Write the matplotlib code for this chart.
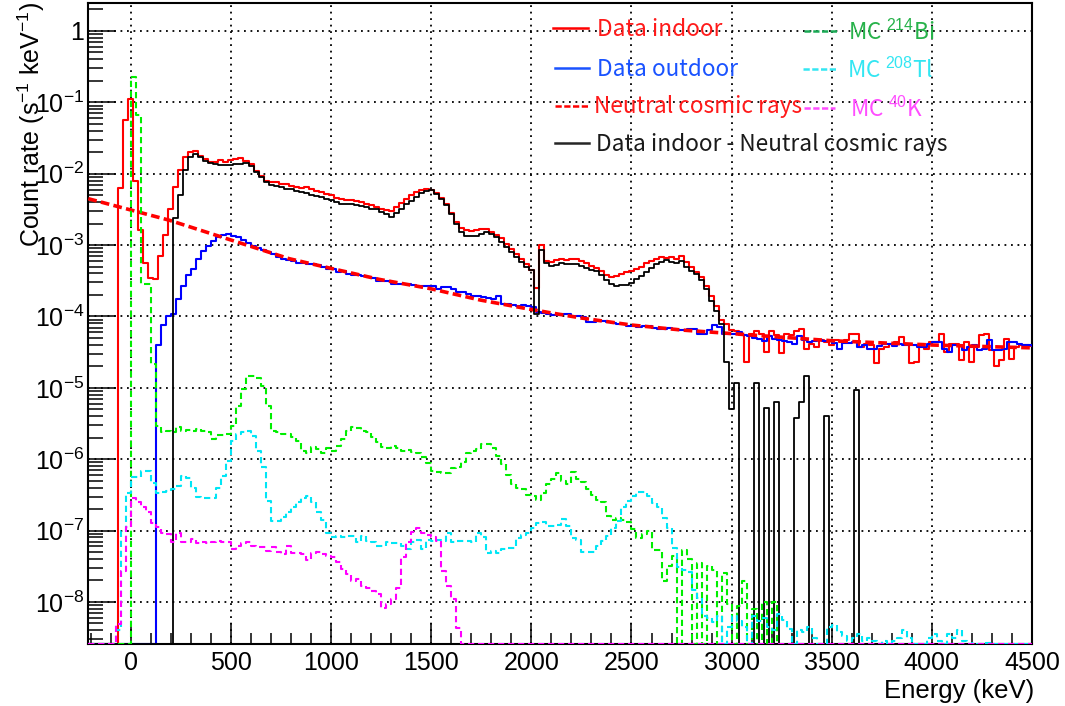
import numpy as np
import matplotlib
matplotlib.use("Agg")
import matplotlib.pyplot as plt
from matplotlib.lines import Line2D
from matplotlib.ticker import FixedLocator, MultipleLocator, LogLocator, FuncFormatter, NullFormatter

# ---------------- data (log10 of count rate, s^-1 keV^-1), 25 keV bins ----------------
BIN = 25.0
XMIN, XMAX = -212.5, 4500.0
YMIN, YMAX = 2.55e-9, 2.49

x_ticks = [0, 500, 1000, 1500, 2000, 2500, 3000, 3500, 4000, 4500]

indoor_start = -62.5
indoor_log10 = [
    -2.20, -1.25, -0.96, -2.10, -2.79, -3.25, -3.46, -3.48, -3.15, -2.86,
    -2.50, -2.18, -1.95, -1.77, -1.70, -1.68,
    -1.75, -1.80, -1.83, -1.83, -1.81, -1.83, -1.81, -1.80, -1.785, -1.82,
    -1.86, -1.96, -2.03, -2.10, -2.11, -2.12, -2.14, -2.15, -2.17, -2.18,
    -2.20, -2.19, -2.22, -2.24, -2.26, -2.28,
    -2.30, -2.34, -2.36, -2.37, -2.37, -2.38, -2.40, -2.42, -2.44, -2.46,
    -2.49, -2.51, -2.52, -2.46, -2.41, -2.35, -2.30, -2.25, -2.23, -2.22,
    -2.23, -2.27, -2.34, -2.43, -2.55, -2.67, -2.76, -2.79, -2.80, -2.79,
    -2.77, -2.78, -2.82, -2.86, -2.90, -2.98, -3.06, -3.13, -3.20, -3.27,
    -3.35, -3.60, -3.00, -3.22, -3.23, -3.21, -3.19, -3.21, -3.19, -3.20,
    -3.22, -3.25, -3.29, -3.32, -3.37, -3.42, -3.45, -3.44, -3.40, -3.38,
    -3.36, -3.34, -3.30, -3.25, -3.22, -3.20, -3.17, -3.18, -3.17, -3.19,
    -3.15, -3.24, -3.31, -3.38, -3.45, -3.57, -3.72, -3.86, -4.05, -4.10,
    -4.19, -4.20, -4.26, -4.64, -4.24, -4.20, -4.24, -4.50, -4.20, -4.26,
    -4.51, -4.24, -4.26, -4.20, -4.18, -4.45, -4.38, -4.43, -4.33, -4.36,
    -4.40, -4.33, -4.36, -4.33, -4.24, -4.24, -4.43, -4.38, -4.40, -4.65,
    -4.45, -4.43, -4.38, -4.36, -4.29, -4.38, -4.65, -4.64, -4.38, -4.45,
    -4.36, -4.36, -4.24, -4.50, -4.38, -4.38, -4.61, -4.36, -4.64, -4.43,
    -4.26, -4.24, -4.47, -4.70, -4.61, -4.31, -4.59, -4.43, -4.40, -4.40,
    -4.42,
]

outdoor_start = 125.0
outdoor_log10 = [
    -4.40, -4.12, -4.00, -3.96, -3.76, -3.58, -3.42, -3.33, -3.19, -3.08,
    -3.015, -2.94, -2.885, -2.86, -2.84, -2.875, -2.89, -2.93, -2.97, -3.015,
    -3.04, -3.07, -3.09, -3.12, -3.165, -3.19, -3.21, -3.22, -3.25, -3.25,
    -3.26, -3.27, -3.28, -3.305, -3.33, -3.33, -3.376, -3.36, -3.41, -3.42,
    -3.42, -3.43, -3.446, -3.46, -3.50, -3.50, -3.51, -3.54, -3.545, -3.54,
    -3.55, -3.56, -3.58, -3.57, -3.57, -3.58, -3.61, -3.59, -3.59, -3.61,
    -3.66, -3.66, -3.68, -3.71, -3.72, -3.73, -3.74, -3.75, -3.72, -3.83,
    -3.83, -3.84, -3.86, -3.84, -3.85, -3.87, -3.94, -3.95, -3.97, -3.98,
    -3.98, -3.97, -3.97, -4.00, -4.00, -4.01, -4.08, -4.08, -4.06, -4.06,
    -4.08, -4.09, -4.10, -4.11, -4.13, -4.14, -4.15, -4.14, -4.14, -4.16,
    -4.17, -4.17, -4.16, -4.18, -4.19, -4.19, -4.17, -4.17, -4.24, -4.24,
    -4.19, -4.12, -4.15, -4.24, -4.24,
    -4.24, -4.22, -4.26, -4.28, -4.30, -4.32, -4.35, -4.28, -4.32, -4.33,
    -4.34, -4.36, -4.39, -4.27, -4.33, -4.36, -4.35, -4.33, -4.35, -4.35,
    -4.37, -4.46, -4.37, -4.37, -4.36, -4.43, -4.40, -4.45, -4.45, -4.42,
    -4.38, -4.38, -4.42, -4.38, -4.40, -4.40, -4.40, -4.43, -4.43, -4.38,
    -4.36, -4.36, -4.45, -4.50, -4.40, -4.40, -4.47, -4.43, -4.40, -4.47,
    -4.45, -4.33, -4.47, -4.47, -4.46, -4.36, -4.36, -4.38, -4.40, -4.40,
    -4.41,
]

# neutral cosmic-ray fit curve: (energy keV, log10 rate)
cosmic_energy = [-212.5, 190, 490, 790, 990, 1240, 1495, 1745, 1995, 2245,
                 2500, 2750, 3000, 3500, 4000, 4500]
cosmic_log10 = [-2.35, -2.65, -2.92, -3.19, -3.32, -3.48, -3.61, -3.77, -3.90, -4.02,
                -4.12, -4.19, -4.24, -4.34, -4.40, -4.44]

# indoor minus cosmic (None = empty / negative bin)
subtracted_start = 212.5
subtracted_log10 = [
    -2.62, -2.30, -1.95, -1.76, -1.72,
    -1.77, -1.82, -1.85, -1.87, -1.88, -1.88, -1.875, -1.87, -1.86, -1.85,
    -1.89, -1.97, -2.05, -2.11, -2.16, -2.17, -2.19, -2.21, -2.22, -2.24,
    -2.26, -2.27, -2.30, -2.31, -2.33, -2.35,
    -2.37, -2.39, -2.42, -2.43, -2.43, -2.44, -2.455, -2.47, -2.49, -2.50,
    -2.53, -2.57, -2.61, -2.55, -2.49, -2.43, -2.38, -2.33, -2.27, -2.24,
    -2.23, -2.28, -2.35, -2.44, -2.56, -2.70, -2.82, -2.87, -2.875, -2.87,
    -2.84, -2.82, -2.85, -2.89, -2.95, -3.02, -3.09, -3.16, -3.23, -3.30,
    -3.35, -3.96, -3.07, -3.25, -3.29, -3.28, -3.25, -3.27, -3.26, -3.27,
    -3.29, -3.32, -3.35, -3.37, -3.42, -3.49, -3.54, -3.58, -3.56, -3.56,
    -3.53, -3.48, -3.44, -3.38, -3.32, -3.27, -3.23, -3.21, -3.23, -3.25,
    -3.22, -3.30, -3.36, -3.41, -3.49, -3.61, -3.78, -3.93, -4.10, -4.64,
    -5.30, -4.93, None, None, None, -4.93, None, -5.28, None, -5.20,
    None, None, None, -5.42, -5.20, -4.84, None, None, None, -5.39,
    None, None, None, None, None, -5.03,
]

mc_bi214_start = 0.0
mc_bi214_log10 = [
    -0.64, -1.18, -3.54, -3.54, -4.66,
    -5.53, -5.62, -5.60, -5.62, -5.55, -5.60, -5.59, -5.60, -5.58, -5.60,
    -5.62, -5.71, -5.66, -5.66, -5.64, -5.53, -5.25, -5.01, -4.84, -4.84,
    -4.86, -4.98, -5.25, -5.60, -5.62, -5.64, -5.64, -5.69, -5.74, -5.88,
    -5.91, -5.83, -5.86, -5.92, -5.84, -5.88, -5.81, -5.71, -5.60, -5.55,
    -5.56, -5.60, -5.62, -5.69, -5.76, -5.83, -5.85, -5.82, -5.84, -5.89,
    -5.87, -5.90, -5.92, -5.97, -6.06, -6.16, -6.18, -6.20, -6.20, -6.13,
    -6.11, -6.04, -5.91, -5.89, -5.86, -5.78, -5.78, -5.85, -5.95, -6.07,
    -6.22, -6.35, -6.40, -6.42, -6.50, -6.52, -6.57, -6.48, -6.35, -6.28,
    -6.20, -6.30, -6.35, -6.18, -6.28, -6.32, -6.42, -6.50, -6.57, -6.60,
    -6.80, -6.85, -6.82, -6.85, -6.88, -6.98, -7.10, -7.05, -7.00, -7.27,
    -7.27, -7.70, -7.50, -7.35, None, -7.27, -7.40, None, -7.45, None,
    -7.50, -7.55, None, -7.60, -8.03, None, -8.05, -7.70, None, -8.10,
    None, -8.00, None, -8.00,
]

mc_tl208_start = -75.0
mc_tl208_log10 = [
    -8.40, -7.00, -6.48, -6.25, -6.25, -6.16, -6.16, -6.34, -6.48, -6.46,
    -6.45, -6.42, -6.38, -6.23, -6.26, -6.40, -6.53, -6.55, -6.55, -6.55,
    -6.40, -6.23, -6.02, -5.74, -5.64, -5.62, -5.61, -5.67, -5.88, -6.11,
    -6.58, -6.87, -6.87, -6.81, -6.74, -6.67, -6.60, -6.55, -6.52, -6.60,
    -6.74, -6.85, -7.04, -7.09, -7.08, -7.09, -7.07, -7.07, -7.16, -7.07,
    -7.14, -7.16, -7.21, -7.21, -7.16, -7.18, -7.18, -7.21, -7.26, -7.16,
    -7.13, -7.26, -7.13, -7.14, -7.13, -7.14, -7.04, -7.16, -7.14, -7.14,
    -7.14, -7.16, -7.04, -7.09, -7.31, -7.29, -7.31, -7.26, -7.25, -7.25,
    -7.11, -7.06, -7.04, -6.97, -6.90, -6.88, -6.94, -6.93, -6.92, -6.84,
    -6.94, -7.11, -7.13, -7.30, -7.30, -7.30, -7.21, -7.15, -7.08, -6.97,
    -6.87, -6.67, -6.59, -6.52, -6.46, -6.46, -6.52, -6.62, -6.67, -6.82,
    -6.97, -7.24, -7.51, -7.55, -7.58, -7.83, -7.95, -8.20, -8.22, -8.28,
    -8.20, None, -8.35, -8.20, -8.27, -8.35, None, -8.20, -8.27, -8.22,
    -8.35, -8.40, -8.17, -8.25, -8.38, None, -8.40, -8.42, -8.35, -8.50,
    None, None, -8.35, -8.32, -8.42, -8.48, -8.55, -8.50, -8.45, -8.55,
    -8.50, -8.55, None, -8.55, None, -8.55, -8.50, -8.40, -8.50, None,
    None, None, -8.50, -8.45, -8.55, None, -8.45, -8.50, -8.40, -8.55,
    None, -8.58, None, -8.58, -8.58,
]

mc_k40_start = -75.0
mc_k40_log10 = [
    -8.31, -7.56, -6.95, -6.55, -6.60, -6.67, -6.74, -6.90, -6.95, -7.04,
    -7.05, -7.16, -7.04, -7.16, -7.16, -7.12, -7.18, -7.16, -7.17, -7.16,
    -7.14, -7.16, -7.16, -7.26, -7.21, -7.17, -7.16, -7.21, -7.23, -7.23,
    -7.28, -7.23, -7.30, -7.33, -7.21, -7.31, -7.31, -7.33, -7.41, -7.31,
    -7.30, -7.33, -7.35, -7.37, -7.44, -7.54, -7.61, -7.70, -7.68, -7.77,
    -7.80, -7.84, -7.89, -8.08, -8.03, -7.96, -7.80, -7.37, -7.16, -7.02,
    -6.97, -7.04, -7.06, -7.09, -7.14, -7.56, -7.77, -7.96, -8.36,
]

# ---------------- figure ----------------
W, H = 1065, 706
plt.rcParams["font.family"] = ["Liberation Sans", "DejaVu Sans"]
plt.rcParams["mathtext.fontset"] = "custom"
plt.rcParams["mathtext.rm"] = "Liberation Sans"
plt.rcParams["mathtext.it"] = "Liberation Sans:italic"
plt.rcParams["mathtext.bf"] = "Liberation Sans:bold"

fig = plt.figure(figsize=(W / 100, H / 100), dpi=100)
ax = fig.add_axes([88.3 / W, (H - 644.3) / H, (1032 - 88.3) / W, (644.3 - 2.7) / H])
ax.set_xlim(XMIN, XMAX)
ax.set_yscale("log")
ax.set_ylim(YMIN, YMAX)


def hist(start, logs, **kw):
    vals = [10.0 ** v if v is not None else YMIN for v in logs]
    edges = start + BIN * np.arange(len(vals) + 1)
    x = np.concatenate(([XMIN - 100], edges, [XMAX + 100]))
    y = np.concatenate(([YMIN], vals, [YMIN, YMIN]))
    ax.plot(x, y, drawstyle="steps-post", zorder=3, clip_on=True, **kw)


RED, BLUE = "#ff0000", "#0000ff"
GREEN, CYAN, MAGENTA = "#00ee00", "#00e6f5", "#ff00ff"
mc_ls = (0, (3.0, 1.8))

hist(indoor_start, indoor_log10, color=RED, lw=1.5)
hist(outdoor_start, outdoor_log10, color=BLUE, lw=1.5)
ax.plot(cosmic_energy, [10.0 ** v for v in cosmic_log10], color=RED, lw=2.6,
        linestyle=(0, (2.4, 1.2)), zorder=3)
hist(subtracted_start, subtracted_log10, color="black", lw=1.3)
hist(mc_bi214_start, mc_bi214_log10, color=GREEN, lw=1.5, linestyle=mc_ls)
hist(mc_tl208_start, mc_tl208_log10, color=CYAN, lw=1.5, linestyle=mc_ls)
hist(mc_k40_start, mc_k40_log10, color=MAGENTA, lw=1.5, linestyle=mc_ls)

# axes styling (ROOT-like)
ax.xaxis.set_major_locator(FixedLocator(x_ticks))
ax.xaxis.set_minor_locator(MultipleLocator(100))
ax.yaxis.set_major_locator(LogLocator(base=10, numticks=20))
ax.yaxis.set_minor_locator(LogLocator(base=10, subs=np.arange(2, 10), numticks=20))
ax.yaxis.set_minor_formatter(NullFormatter())


def yfmt(v, pos):
    e = int(round(np.log10(v)))
    if e == 0:
        return "1"
    return r"$\mathregular{10^{%d}}$" % e


ax.yaxis.set_major_formatter(FuncFormatter(yfmt))
ax.xaxis.set_major_formatter(FuncFormatter(lambda v, p: "%d" % v))
ax.tick_params(axis="x", which="major", direction="in", length=15, width=1.1,
               labelsize=18, pad=4.5)
ax.tick_params(axis="x", which="minor", direction="in", length=8, width=1.1)
ax.tick_params(axis="y", which="major", direction="in", length=20, width=1.1,
               labelsize=18, pad=3)
ax.tick_params(axis="y", which="minor", direction="in", length=11, width=1.1)
for s in ax.spines.values():
    s.set_linewidth(1.5)
ax.grid(True, which="major", color="black", linestyle=(0, (1, 2.6)), lw=1.3)
ax.set_axisbelow(False)

fig.text(1034 / W, (H - 698) / H, "Energy (keV)", ha="right", va="baseline",
         fontsize=18.5)
fig.text(31 / W, 1 - 2 / H, r"Count rate (s$^{-1}$ keV$^{-1}$)", rotation=90,
         ha="center", va="top", fontsize=18)

# legend (drawn manually, no frame)
LEG_FONT = ["Noto Sans CJK JP", "DejaVu Sans"]


def legend_entry(x0, x1, y, tx, label, lcolor, tcolor, **lkw):
    fig.add_artist(Line2D([x0 / W, x1 / W], [1 - y / H, 1 - y / H],
                          transform=fig.transFigure, color=lcolor, **lkw))
    fig.text(tx / W, 1 - (y + 1) / H, label, color=tcolor, ha="left", va="center",
             fontsize=16.3, family=LEG_FONT)


legend_entry(553, 588, 28, 597, "Data indoor", RED, "#ff1a1a", lw=1.8)
legend_entry(555, 589, 68, 597, "Data outdoor", "#1a53ff", "#1a53ff", lw=1.8)
legend_entry(555, 590, 106, 594, "Neutral cosmic rays", RED, "#ff1a1a", lw=1.8,
             linestyle=(0, (2.5, 1.0)))
legend_entry(555, 589, 143, 596, "Data indoor - Neutral cosmic rays", "#262626",
             "#1a1a1a", lw=1.8)
legend_entry(804, 838, 31, 848, r"MC $^{214}$Bi", "#1aaa55", "#27b24a", lw=1.8,
             linestyle=(0, (2.5, 1.0)))
legend_entry(803, 837, 69, 847, r"MC $^{208}$Tl", "#33e6f2", "#33e6f2", lw=1.8,
             linestyle=(0, (2.5, 1.0)))
legend_entry(804, 835, 108, 850, r"MC $^{40}$K", "#ff4dff", "#ff4dff", lw=1.8,
             linestyle=(0, (2.5, 1.0)))

fig.savefig("out.png", dpi=100)
